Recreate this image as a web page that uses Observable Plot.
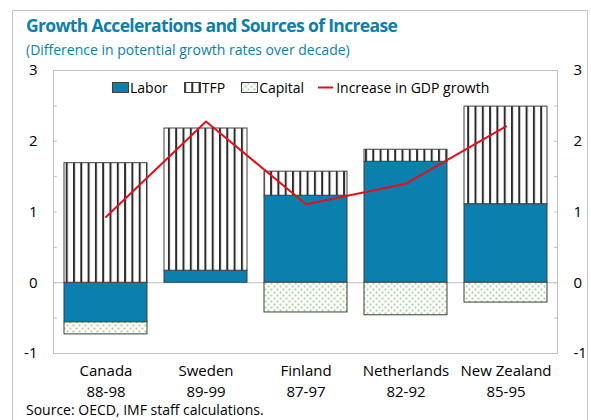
<!DOCTYPE html>
<html>
<head>
<meta charset="utf-8">
<script src="https://cdn.jsdelivr.net/npm/d3@7"></script>
<script src="https://cdn.jsdelivr.net/npm/@observablehq/plot@0.6"></script>
<style>
  html, body { margin: 0; padding: 0; background: #fff; }
  body { font-family: "Open Sans", "Noto Sans", sans-serif; }
  #wrap { position: relative; width: 591px; height: 420px; overflow: hidden; }
  #border { position: absolute; left: 12px; top: 10px; width: 576px; height: 430px; border: 1px solid #c6c6c6; box-sizing: border-box; }
  #title { position: absolute; left: 26px; top: 13px; font-size: 17.5px; letter-spacing: -0.65px; font-weight: 700; color: #0b80af; white-space: nowrap; }
  #subtitle { position: absolute; left: 26px; top: 40px; font-size: 14px; color: #0b80af; white-space: nowrap; }
  #chart { position: absolute; left: 0; top: 60px; }
  #legend { position: absolute; left: 112px; top: 78px; display: flex; align-items: center; font-size: 14px; color: #000; white-space: nowrap; }
  #legend .item { display: flex; align-items: center; margin-right: 16px; }
  #legend .item.cap { margin-right: 13px; }
  #legend svg { display: block; margin-right: 1px; }
  #source { position: absolute; left: 26px; top: 401px; font-size: 14px; line-height: 18px; color: #000; white-space: nowrap; }
</style>
</head>
<body>
<div id="wrap">
  <div id="border"></div>
  <div id="title">Growth Accelerations and Sources of Increase</div>
  <div id="subtitle">(Difference in potential growth rates over decade)</div>
  <div id="chart"></div>
  <div id="legend"></div>
  <div id="source">Source: OECD, IMF staff calculations.</div>
</div>
<script>
// ---- data ----
const countries = ["Canada", "Sweden", "Finland", "Netherlands", "New Zealand"];
const periods = ["88-98", "89-99", "87-97", "82-92", "85-95"];
const labor = [-0.56, 0.17, 1.23, 1.71, 1.11];
const tfp = [1.69, 2.01, 0.34, 0.17, 1.38];
const capital = [-0.17, 0.0, -0.42, -0.46, -0.28];
const gdpIncrease = [0.93, 2.28, 1.11, 1.40, 2.21];
const seriesNames = ["Labor", "TFP", "Capital"];
const lineName = "Increase in GDP growth";
const yTicks = [-1, 0, 1, 2, 3];

// ---- build tables ----
const seriesValues = [labor, tfp, capital];
const barData = [];
countries.forEach((c, i) => {
  seriesNames.forEach((s, j) => barData.push({country: c, series: s, value: seriesValues[j][i]}));
});
const lineData = countries.map((c, i) => ({country: c, value: gdpIncrease[i]}));
const periodOf = new Map(countries.map((c, i) => [c, periods[i]]));

const LABOR = "#0b80af";
const LINE = "#e3101b";
const OUTLINE = "#3f3f3f";
const FRAME = "#c0c0c0";

function defsMark() {
  const g = document.createElementNS("http://www.w3.org/2000/svg", "g");
  g.innerHTML = `
    <defs>
      <pattern id="tfpPat" patternUnits="userSpaceOnUse" width="7.3" height="10">
        <rect width="7.3" height="10" fill="#ffffff"/>
        <rect x="0" width="2" height="10" fill="#2b2b2b"/>
      </pattern>
      <pattern id="capPat" patternUnits="userSpaceOnUse" width="6" height="6">
        <rect width="6" height="6" fill="#ffffff"/>
        <rect x="0.5" y="0.5" width="2" height="2" fill="#a9d69c"/>
        <rect x="3.5" y="3.5" width="2" height="2" fill="#a9d69c"/>
      </pattern>
    </defs>`;
  return g;
}

const chart = Plot.plot({
  width: 591,
  height: 350,
  marginTop: 10,
  marginBottom: 57,
  marginLeft: 53,
  marginRight: 34,
  style: {fontFamily: '"Open Sans", "Noto Sans", sans-serif', fontSize: "15px", color: "#000", background: "transparent"},
  x: {domain: countries, paddingInner: 0.17, paddingOuter: 0.085, label: null},
  y: {domain: [-1, 3], label: null},
  color: {domain: seriesNames, range: [LABOR, "url(#tfpPat)", "url(#capPat)"]},
  marks: [
    defsMark,
    Plot.frame({stroke: FRAME}),
    Plot.ruleY([0], {stroke: FRAME}),
    Plot.barY(barData, {x: "country", y: "value", fill: "series", stroke: OUTLINE, strokeWidth: 1}),
    Plot.line(lineData, {x: "country", y: "value", stroke: LINE, strokeWidth: 2}),
    // inward minor ticks
    Plot.axisY(d3.range(-1, 3.01, 0.5), {anchor: "left", tickSize: 4, dx: 4, fill: "none", stroke: FRAME, label: null}),
    Plot.axisY(d3.range(-1, 3.01, 0.5), {anchor: "right", tickSize: 4, dx: -4, fill: "none", stroke: FRAME, label: null}),
    // labels
    Plot.axisY(yTicks, {anchor: "left", tickSize: 0, tickPadding: 16, tickFormat: d => String(d), label: null}),
    Plot.axisY(yTicks, {anchor: "right", tickSize: 0, tickPadding: 16, tickFormat: d => String(d), label: null}),
    Plot.axisX({anchor: "bottom", tickSize: 0, tickPadding: 8, lineHeight: 1.4, tickFormat: d => d + "\n" + periodOf.get(d), label: null})
  ]
});
document.getElementById("chart").appendChild(chart);

// ---- legend ----
const legend = document.getElementById("legend");
const swatchFills = [LABOR, "url(#tfpPat)", "url(#capPat)"];
seriesNames.forEach((s, i) => {
  const item = document.createElement("div");
  item.className = "item" + (i === 2 ? " cap" : "");
  item.innerHTML = `<svg width="17" height="11"><rect x="0.5" y="0.5" width="16" height="10" fill="${swatchFills[i]}" stroke="${OUTLINE}" stroke-width="1"/></svg><span>${s}</span>`;
  legend.appendChild(item);
});
const li = document.createElement("div");
li.className = "item";
li.innerHTML = `<svg width="18" height="11"><line x1="1" x2="16" y1="5.5" y2="5.5" stroke="${LINE}" stroke-width="2"/></svg><span>${lineName}</span>`;
legend.appendChild(li);
</script>
</body>
</html>
